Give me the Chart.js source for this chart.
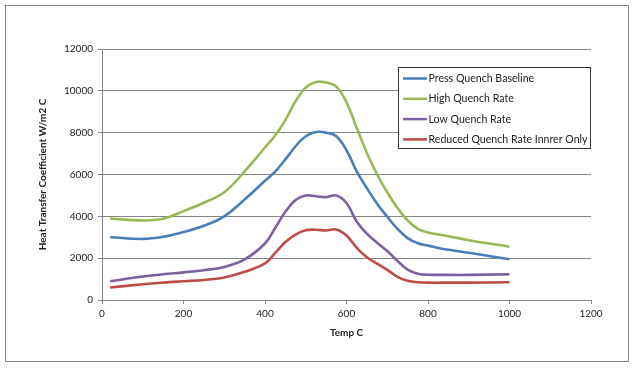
<!DOCTYPE html>
<html>
<head>
<meta charset="utf-8">
<script src="https://cdn.jsdelivr.net/npm/chart.js@4.4.0/dist/chart.umd.min.js"></script>
<style>
  html, body { margin: 0; padding: 0; background: #fff; }
  #wrap { width: 636px; height: 372px; position: relative; }
</style>
</head>
<body>
<div id="wrap"><canvas id="htcChart" width="636" height="372"></canvas></div>
<script>
// temperatures (deg C) at which the curves were read
const temps = [20, 100, 150, 200, 250, 300, 350, 400, 425, 450, 475, 500, 525, 550, 575, 600, 625, 650, 675, 700, 725, 750, 775, 800, 850, 900, 1000];

const baseline     = [3000, 2920, 3020, 3250, 3550, 4000, 4800, 5700, 6140, 6720, 7350, 7830, 8030, 8000, 7830, 7160, 6150, 5350, 4600, 3980, 3400, 2960, 2710, 2600, 2400, 2260, 1950];
const highRate     = [3900, 3800, 3880, 4250, 4650, 5150, 6150, 7290, 7860, 8600, 9500, 10160, 10420, 10400, 10200, 9450, 8230, 7030, 6010, 5150, 4400, 3800, 3400, 3230, 3050, 2860, 2550];
const lowRate      = [900, 1120, 1230, 1320, 1420, 1580, 1940, 2700, 3440, 4220, 4780, 5000, 4960, 4920, 5000, 4640, 3750, 3170, 2740, 2340, 1870, 1450, 1260, 1210, 1200, 1200, 1230];
const reducedInner = [600, 750, 830, 900, 960, 1080, 1350, 1750, 2250, 2770, 3130, 3330, 3360, 3320, 3370, 3080, 2500, 2040, 1740, 1440, 1110, 915, 850, 830, 830, 830, 850];

const seriesNames = ["Press Quench Baseline", "High Quench Rate", "Low Quench Rate", "Reduced Quench Rate Innrer Only"];
const seriesColors = ["#4A7EBB", "#98B954", "#7D60A0", "#BE4B48"];

const xTickLabels = ["0", "200", "400", "600", "800", "1000", "1200"];
const yTickLabels = ["0", "2000", "4000", "6000", "8000", "10000", "12000"];

const FONT = "Lato, 'Open Sans', sans-serif";
const GRID = "#868686";

function toPoints(values) {
    return temps.map((t, i) => ({ x: t, y: values[i] }));
}

// outer frame of the chart object
const framePlugin = {
    id: "frame",
    beforeDraw(chart) {
        const c = chart.ctx;
        c.save();
        c.fillStyle = "#fff";
        c.fillRect(0, 0, chart.width, chart.height);
        c.strokeStyle = "#888";
        c.lineWidth = 1;
        c.strokeRect(5.5, 5.5, 623, 356);
        c.restore();
    }
};

// legend box floating inside the plot, like Excel
const boxLegend = {
    id: "boxLegend",
    afterDraw(chart) {
        const c = chart.ctx;
        const left = 398.5, top = 67.5, w = 192, h = 81;
        c.save();
        c.fillStyle = "#fff";
        c.fillRect(left, top, w, h);
        c.strokeStyle = "#333";
        c.lineWidth = 1;
        c.strokeRect(left, top, w, h);
        c.font = "10.6px " + FONT;
        c.textBaseline = "middle";
        chart.data.datasets.forEach((ds, i) => {
            const y = 78.5 + i * 20.3;
            c.strokeStyle = ds.borderColor;
            c.lineWidth = 2.5;
            c.beginPath();
            c.moveTo(403, y);
            c.lineTo(427, y);
            c.stroke();
            c.fillStyle = "#222";
            c.fillText(ds.label, 428.5, y);
        });
        c.restore();
    }
};

const ctx = document.getElementById("htcChart").getContext("2d");

new Chart(ctx, {
    type: "line",
    data: {
        datasets: [baseline, highRate, lowRate, reducedInner].map((vals, i) => ({
            label: seriesNames[i],
            data: toPoints(vals),
            borderColor: seriesColors[i],
            backgroundColor: seriesColors[i],
            borderWidth: 2.6,
            pointRadius: 0,
            tension: 0.4,
            fill: false
        }))
    },
    options: {
        responsive: false,
        animation: false,
        layout: { padding: { top: 49, right: 45, left: 0, bottom: 0 } },
        plugins: {
            legend: { display: false },
            tooltip: { enabled: false }
        },
        scales: {
            x: {
                type: "linear",
                min: 0,
                max: 1200,
                afterFit: s => { s.height = 72; },
                afterBuildTicks: s => { s.ticks = xTickLabels.map(v => ({ value: Number(v) })); },
                ticks: {
                    padding: 4,
                    color: "#222",
                    font: { family: FONT, size: 10 },
                    maxRotation: 0,
                    callback: (v, i) => xTickLabels[i]
                },
                grid: { drawOnChartArea: false, drawTicks: true, tickLength: 4, color: GRID },
                border: { color: GRID },
                title: {
                    display: true,
                    text: "Temp C",
                    color: "#222",
                    font: { family: FONT, size: 10, weight: "bold" },
                    padding: { top: 0, bottom: 33 }
                }
            },
            y: {
                min: 0,
                max: 12000,
                afterFit: s => { s.width = 102; },
                afterBuildTicks: s => { s.ticks = yTickLabels.map(v => ({ value: Number(v) })); },
                ticks: {
                    padding: 5,
                    color: "#222",
                    font: { family: FONT, size: 10 },
                    callback: (v, i) => yTickLabels[i]
                },
                grid: { color: GRID, tickLength: 4 },
                border: { color: GRID },
                title: {
                    display: true,
                    text: "Heat Transfer Coefficient W/m2 C",
                    color: "#222",
                    font: { family: FONT, size: 10, weight: "bold" },
                    padding: { top: 37, bottom: 0 }
                }
            }
        }
    },
    plugins: [framePlugin, boxLegend]
});
</script>
</body>
</html>
